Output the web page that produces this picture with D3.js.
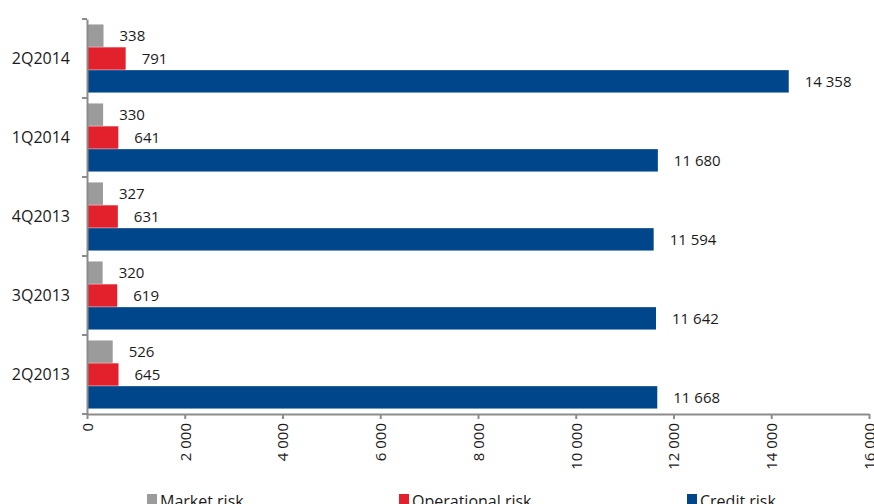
<!DOCTYPE html>
<html>
<head>
<meta charset="utf-8">
<script src="https://cdn.jsdelivr.net/npm/d3@7"></script>
<style>
  html, body { margin: 0; padding: 0; background: #fff; overflow: hidden; }
  svg { display: block; }
  text { font-family: "Open Sans", "Liberation Sans", sans-serif; fill: #1a1a1a; }
</style>
</head>
<body>
<svg id="chart" width="874" height="504"></svg>
<script>
// Risk-weighted amounts by quarter
const quarters = ["2Q2014", "1Q2014", "4Q2013", "3Q2013", "2Q2013"];
const seriesNames = ["Market risk", "Operational risk", "Credit risk"];
const marketRisk = [338, 330, 327, 320, 526];
const operationalRisk = [791, 641, 631, 619, 645];
const creditRisk = [14358, 11680, 11594, 11642, 11668];
const xTicks = [0, 2000, 4000, 6000, 8000, 10000, 12000, 14000, 16000];
const colors = ["#9b9b9b", "#e3212d", "#00468b"];

const seriesValues = [marketRisk, operationalRisk, creditRisk];
const rows = quarters.map((q, i) => ({
  quarter: q,
  values: seriesNames.map((s, k) => ({ series: s, value: seriesValues[k][i], k }))
}));

const svg = d3.select("#chart");
const margin = { left: 87, top: 19 };

const x = d3.scaleLinear().domain([0, 16000]).range([margin.left, 869]);
const y = d3.scaleBand().domain(quarters).range([margin.top, 414]).paddingInner(0).paddingOuter(0);
const inner = d3.scaleBand().domain(seriesNames).range([5, y.bandwidth() - 5]).padding(0.02);

const fmt = v => d3.format(",")(v).replace(/,/g, " ");

const groups = svg.append("g").selectAll("g")
  .data(rows).join("g")
  .attr("transform", d => `translate(0,${y(d.quarter)})`);

groups.selectAll("rect")
  .data(d => d.values).join("rect")
  .attr("x", x(0))
  .attr("y", d => inner(d.series))
  .attr("width", d => x(d.value) - x(0))
  .attr("height", inner.bandwidth())
  .attr("fill", d => colors[d.k]);

groups.selectAll("text.val")
  .data(d => d.values).join("text")
  .attr("class", "val")
  .attr("x", d => x(d.value) + 16)
  .attr("y", d => inner(d.series) + inner.bandwidth() / 2)
  .attr("dy", "0.35em")
  .attr("font-size", 15)
  .text(d => fmt(d.value));

// Y axis
const yAxis = svg.append("g")
  .attr("transform", `translate(${x(0)},0)`)
  .call(d3.axisLeft(y).tickSize(0).tickPadding(17));
yAxis.select(".domain").attr("stroke", "#8c8c8c").attr("stroke-width", 2);
yAxis.selectAll("text").attr("font-size", 16).attr("fill", "#1a1a1a");
// category boundary ticks
svg.append("g").selectAll("line")
  .data(d3.range(quarters.length + 1)).join("line")
  .attr("x1", x(0) - 5).attr("x2", x(0))
  .attr("y1", i => margin.top + i * y.step())
  .attr("y2", i => margin.top + i * y.step())
  .attr("stroke", "#8c8c8c").attr("stroke-width", 2);

// X axis
const xAxis = svg.append("g")
  .attr("transform", `translate(0,414)`)
  .call(d3.axisBottom(x).tickValues(xTicks).tickSize(5).tickSizeOuter(0).tickFormat(fmt));
xAxis.select(".domain").attr("stroke", "#8c8c8c").attr("stroke-width", 2);
xAxis.selectAll(".tick line").attr("stroke", "#8c8c8c").attr("stroke-width", 2);
xAxis.selectAll("text")
  .attr("font-size", 15)
  .attr("fill", "#1a1a1a")
  .attr("transform", "rotate(-90)")
  .attr("text-anchor", "end")
  .attr("x", -9)
  .attr("y", 0)
  .attr("dy", "0.35em");

// Legend
const legendX = [147, 399, 687];
const legend = svg.append("g").selectAll("g")
  .data(seriesNames).join("g")
  .attr("transform", (d, i) => `translate(${legendX[i]},494)`);
legend.append("rect").attr("width", 10).attr("height", 10).attr("fill", (d, i) => colors[i]);
legend.append("text").attr("x", 13).attr("y", 13).attr("font-size", 16).text(d => d);
</script>
</body>
</html>
